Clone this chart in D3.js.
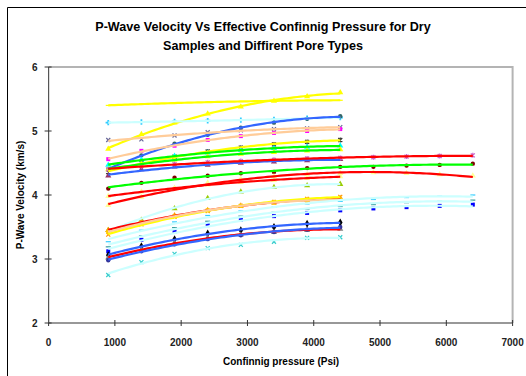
<!DOCTYPE html>
<html>
<head>
<meta charset="utf-8">
<script src="https://cdn.jsdelivr.net/npm/d3@7"></script>
<style>
  body { margin: 0; background: #fff; }
  svg text { font-family: "Liberation Sans", Arial, sans-serif; font-weight: bold; }
</style>
</head>
<body>
<div id="chart"></div>
<script>
// confining pressure steps (psi)
const shortPressures = [900, 1400, 1900, 2400, 2900, 3400, 3900, 4400];
const longPressures = [900, 1400, 1900, 2400, 2900, 3400, 3900, 4400, 4900, 5400, 5900, 6400];

const xTicks = [0, 1000, 2000, 3000, 4000, 5000, 6000, 7000];
const yTicks = [2, 3, 4, 5, 6];

// one entry per sample: line colour, marker shape, marker colour, velocities (km/s)
const samples = [
  { line: '#ffff00', shape: 'dash', mark: '#ffff00', long: false, v: [5.40, 5.42, 5.44, 5.45, 5.46, 5.47, 5.48, 5.48] },
  { line: '#ffff00', shape: 'triangle', mark: '#ffff00', long: false, v: [4.72, 4.95, 5.13, 5.27, 5.38, 5.47, 5.54, 5.60] },
  { line: '#ccffff', shape: 'plus', mark: '#33ccff', long: false, v: [5.13, 5.14, 5.15, 5.16, 5.17, 5.18, 5.20, 5.21] },
  { line: '#3366ff', shape: 'circle', mark: '#336666', long: false, v: [4.40, 4.62, 4.80, 4.94, 5.05, 5.13, 5.19, 5.23] },
  { line: '#ffcc99', shape: 'x', mark: '#666699', long: false, v: [4.86, 4.87, 4.93, 4.98, 5.01, 5.03, 5.04, 5.06] },
  { line: '#ffcc99', shape: 'square', mark: '#ff00ff', long: false, v: [4.56, 4.69, 4.77, 4.86, 4.92, 4.97, 5.00, 5.03] },
  { line: '#ffff00', shape: 'star', mark: '#333333', long: false, v: [4.36, 4.50, 4.60, 4.68, 4.74, 4.79, 4.83, 4.86] },
  { line: '#00ff00', shape: 'triangle', mark: '#00ffff', long: false, v: [4.47, 4.55, 4.61, 4.66, 4.70, 4.73, 4.75, 4.77] },
  { line: '#00ff00', shape: 'triangle', mark: '#ffff00', long: false, v: [4.40, 4.49, 4.55, 4.60, 4.64, 4.67, 4.69, 4.71] },
  { line: '#3366ff', shape: 'triangle', mark: '#993366', long: false, v: [4.30, 4.40, 4.44, 4.47, 4.50, 4.52, 4.54, 4.56] },
  { line: '#ff0000', shape: 'star', mark: '#cc66cc', long: true, v: [4.40, 4.45, 4.48, 4.51, 4.53, 4.55, 4.57, 4.58, 4.59, 4.60, 4.61, 4.62] },
  { line: '#00ff00', shape: 'circle', mark: '#800000', long: true, v: [4.10, 4.19, 4.27, 4.30, 4.34, 4.36, 4.42, 4.44, 4.44, 4.46, 4.47, 4.49] },
  { line: '#ff0000', shape: 'triangle', mark: '#ffff99', long: true, v: [3.84, 3.97, 4.10, 4.19, 4.25, 4.29, 4.32, 4.34, 4.35, 4.34, 4.32, 4.30] },
  { line: '#ff0000', shape: 'triangle', mark: '#ffff99', long: false, v: [3.98, 4.05, 4.11, 4.16, 4.20, 4.23, 4.26, 4.29] },
  { line: '#ccffff', shape: 'triangle', mark: '#99cc00', long: false, v: [3.45, 3.61, 3.79, 3.95, 4.05, 4.12, 4.15, 4.17] },
  { line: '#ff0000', shape: 'triangle', mark: '#ff9900', long: false, v: [3.45, 3.58, 3.68, 3.76, 3.83, 3.88, 3.92, 3.95] },
  { line: '#ffff00', shape: 'x', mark: '#ff9900', long: false, v: [3.38, 3.54, 3.66, 3.75, 3.83, 3.89, 3.94, 3.97] },
  { line: '#ffcc99', shape: 'square', mark: '#ffcc00', long: false, v: [3.42, 3.56, 3.67, 3.76, 3.83, 3.88, 3.91, 3.93] },
  { line: '#ccffff', shape: 'dash', mark: '#33ccff', long: true, v: [3.27, 3.45, 3.58, 3.68, 3.75, 3.81, 3.86, 3.90, 3.93, 3.96, 3.98, 4.00] },
  { line: '#ccffff', shape: 'dash', mark: '#339999', long: true, v: [3.19, 3.36, 3.49, 3.59, 3.67, 3.73, 3.78, 3.82, 3.85, 3.88, 3.90, 3.92] },
  { line: '#ccffff', shape: 'square', mark: '#0000ff', long: true, v: [3.12, 3.30, 3.43, 3.53, 3.61, 3.67, 3.72, 3.76, 3.79, 3.81, 3.83, 3.85] },
  { line: '#3366ff', shape: 'diamond', mark: '#000000', long: false, v: [3.06, 3.20, 3.31, 3.40, 3.45, 3.50, 3.55, 3.57] },
  { line: '#ff0000', shape: 'triangle', mark: '#808080', long: false, v: [3.02, 3.15, 3.25, 3.33, 3.38, 3.42, 3.45, 3.47] },
  { line: '#3366ff', shape: 'circle', mark: '#333399', long: false, v: [2.98, 3.12, 3.23, 3.31, 3.37, 3.42, 3.46, 3.50] },
  { line: '#ccffff', shape: 'x', mark: '#33cccc', long: false, v: [2.75, 2.95, 3.08, 3.17, 3.22, 3.27, 3.33, 3.34] }
];

const width = 526, height = 376;
const svg = d3.select('#chart').append('svg')
  .attr('width', width)
  .attr('height', height);

// outer chart frame (only left and top edges fall inside the picture)
svg.append('path')
  .attr('d', 'M7.5,376V7.5H526')
  .attr('fill', 'none')
  .attr('stroke', '#000')
  .attr('stroke-width', 1);

const x = d3.scaleLinear().domain([0, 7000]).range([48.6, 512.6]);
const y = d3.scaleLinear().domain([2, 6]).range([323, 67]);

// plot area border (grey, top and right)
svg.append('path')
  .attr('d', `M${x(0)},${y(6)}H${x(7000)}V${y(2)}`)
  .attr('fill', 'none')
  .attr('stroke', '#b4b4b4')
  .attr('stroke-width', 2);

// least squares quadratic, like an Excel polynomial trendline
function quadFit(xs, ys) {
  let s = [0, 0, 0, 0, 0], t = [0, 0, 0];
  xs.forEach((xv, i) => {
    const u = xv / 1000;
    for (let k = 0; k < 5; k++) s[k] += Math.pow(u, k);
    for (let k = 0; k < 3; k++) t[k] += ys[i] * Math.pow(u, k);
  });
  const A = [[s[0], s[1], s[2], t[0]], [s[1], s[2], s[3], t[1]], [s[2], s[3], s[4], t[2]]];
  for (let i = 0; i < 3; i++) {
    for (let j = i + 1; j < 3; j++) {
      const f = A[j][i] / A[i][i];
      for (let k = i; k < 4; k++) A[j][k] -= f * A[i][k];
    }
  }
  const c = [0, 0, 0];
  for (let i = 2; i >= 0; i--) {
    let sum = A[i][3];
    for (let k = i + 1; k < 3; k++) sum -= A[i][k] * c[k];
    c[i] = sum / A[i][i];
  }
  return p => c[0] + c[1] * p / 1000 + c[2] * (p / 1000) * (p / 1000);
}

const line = d3.line()
  .x(d => x(d[0]))
  .y(d => y(d[1]));

const symbols = {
  triangle: d3.symbol(d3.symbolTriangle, 16),
  square: d3.symbol(d3.symbolSquare, 16),
  circle: d3.symbol(d3.symbolCircle, 15),
  diamond: d3.symbol(d3.symbolDiamond, 18),
  plus: d3.symbol(d3.symbolCross, 16)
};

function markerPath(shape) {
  if (symbols[shape]) return symbols[shape]();
  if (shape === 'x') return 'M-2,-2L2,2M-2,2L2,-2';
  if (shape === 'star') return 'M-2,-2L2,2M-2,2L2,-2M0,-2.5V2.5';
  return 'M-2.5,0H2.5';
}

const plot = svg.append('g');

// markers first, trendlines on top of them
samples.forEach(s => {
  const xs = s.long ? longPressures : shortPressures;
  const pts = xs.map((p, i) => [p, s.v[i]]);
  const stroked = s.shape === 'x' || s.shape === 'star' || s.shape === 'dash';
  plot.append('g').selectAll('path')
    .data(pts)
    .enter()
    .append('path')
    .attr('transform', d => `translate(${x(d[0])},${y(d[1])})`)
    .attr('d', markerPath(s.shape))
    .attr('fill', stroked ? 'none' : s.mark)
    .attr('stroke', stroked ? s.mark : 'none')
    .attr('stroke-width', 1.2);
});

samples.forEach(s => {
  const xs = s.long ? longPressures : shortPressures;
  const fit = quadFit(xs, s.v);
  const samplesX = d3.range(xs[0], xs[xs.length - 1] + 1, 50);
  plot.append('path')
    .datum(samplesX.map(p => [p, fit(p)]))
    .attr('d', line)
    .attr('fill', 'none')
    .attr('stroke', s.line)
    .attr('stroke-width', 2.2);
});

// axes
const xAxis = svg.append('g').attr('transform', `translate(0,${y(2)})`);
xAxis.append('line')
  .attr('x1', x(0)).attr('x2', x(7000))
  .attr('stroke', '#333').attr('stroke-width', 1.2);
xAxis.selectAll('.tick')
  .data(xTicks)
  .enter()
  .append('line')
  .attr('x1', d => x(d)).attr('x2', d => x(d))
  .attr('y1', -3).attr('y2', 3)
  .attr('stroke', '#333');
xAxis.selectAll('text')
  .data(xTicks)
  .enter()
  .append('text')
  .attr('x', d => x(d))
  .attr('y', 23)
  .attr('text-anchor', 'middle')
  .style('font-size', '10px')
  .attr('fill', '#222')
  .text(d => d);

const yAxis = svg.append('g').attr('transform', `translate(${x(0)},0)`);
yAxis.append('line')
  .attr('y1', y(2)).attr('y2', y(6))
  .attr('stroke', '#555').attr('stroke-width', 1.2);
yAxis.selectAll('.tick')
  .data(yTicks)
  .enter()
  .append('line')
  .attr('y1', d => y(d)).attr('y2', d => y(d))
  .attr('x1', -4).attr('x2', 3)
  .attr('stroke', '#333');
yAxis.selectAll('text')
  .data(yTicks)
  .enter()
  .append('text')
  .attr('x', -11)
  .attr('y', d => y(d) + 4)
  .attr('text-anchor', 'end')
  .style('font-size', '10px')
  .attr('fill', '#222')
  .text(d => d);

// titles
svg.append('text')
  .attr('x', 263).attr('y', 31)
  .attr('text-anchor', 'middle')
  .style('font-size', '12.6px')
  .text('P-Wave Velocity Vs Effective Confinnig Pressure for Dry');
svg.append('text')
  .attr('x', 263).attr('y', 50)
  .attr('text-anchor', 'middle')
  .style('font-size', '12.6px')
  .text('Samples and Diffirent Pore Types');

svg.append('text')
  .attr('x', 281).attr('y', 365)
  .attr('text-anchor', 'middle')
  .style('font-size', '10px')
  .text('Confinnig pressure (Psi)');

svg.append('text')
  .attr('transform', `translate(24,${y(4)}) rotate(-90)`)
  .attr('text-anchor', 'middle')
  .style('font-size', '10px')
  .text('P-Wave Velocity  (km/s)');
</script>
</body>
</html>
